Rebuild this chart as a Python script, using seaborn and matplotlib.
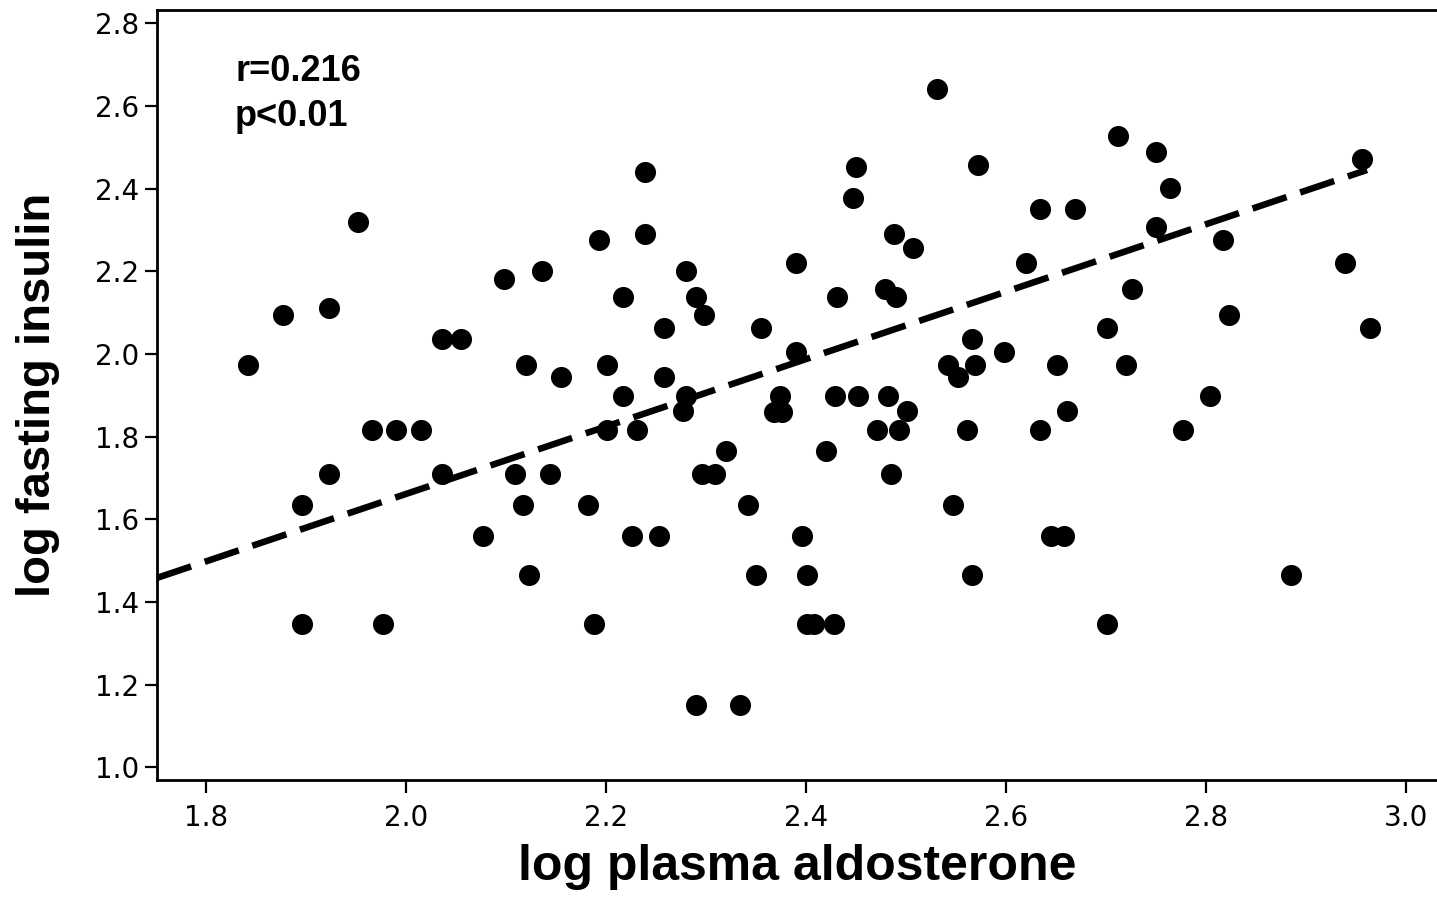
import matplotlib

matplotlib.use("Agg")
import matplotlib.pyplot as plt
import numpy as np
import pandas as pd
import seaborn as sns

# Values
log_aldosterone = [
    1.842, 1.877, 1.923, 1.952, 2.036, 2.055, 2.098, 2.136, 2.120, 2.155,
    2.193, 2.201, 2.217, 2.217, 2.531, 2.239, 2.450, 2.447, 2.572, 2.239,
    2.488, 2.507, 2.390, 2.280, 2.290, 2.298, 2.431, 2.479, 2.490, 2.620,
    2.258, 2.355, 2.390, 2.258, 2.280, 2.277, 2.374, 2.368, 2.376, 2.429,
    2.452, 2.482, 2.501, 2.566, 2.598, 2.542, 2.569, 2.552, 2.712, 2.750,
    2.956, 2.764, 2.634, 2.669, 2.750, 2.817, 2.939, 2.726, 2.701, 2.823,
    2.964, 2.651, 2.720, 2.804, 2.661, 1.966, 1.990, 2.015, 2.201, 1.923,
    2.036, 2.109, 2.144, 1.896, 2.117, 2.182, 2.077, 2.123, 1.896, 1.977,
    2.188, 2.231, 2.471, 2.493, 2.561, 2.320, 2.420, 2.296, 2.309, 2.485,
    2.342, 2.547, 2.226, 2.253, 2.396, 2.350, 2.401, 2.566, 2.401, 2.408,
    2.428, 2.290, 2.334, 2.634, 2.777, 2.645, 2.658, 2.885, 2.701,
]
log_insulin = [
    1.974, 2.093, 2.112, 2.319, 2.037, 2.037, 2.181, 2.200, 1.974, 1.943,
    2.276, 1.974, 2.137, 1.898, 2.640, 2.439, 2.452, 2.377, 2.458, 2.289,
    2.289, 2.257, 2.219, 2.200, 2.137, 2.093, 2.137, 2.156, 2.137, 2.219,
    2.062, 2.062, 2.005, 1.943, 1.898, 1.863, 1.898, 1.860, 1.860, 1.898,
    1.898, 1.898, 1.863, 2.037, 2.005, 1.974, 1.974, 1.943, 2.527, 2.489,
    2.472, 2.401, 2.351, 2.351, 2.308, 2.276, 2.219, 2.156, 2.062, 2.093,
    2.062, 1.974, 1.974, 1.898, 1.863, 1.817, 1.817, 1.817, 1.817, 1.710,
    1.710, 1.710, 1.710, 1.634, 1.634, 1.634, 1.559, 1.465, 1.346, 1.346,
    1.346, 1.817, 1.817, 1.817, 1.817, 1.766, 1.766, 1.710, 1.710, 1.710,
    1.634, 1.634, 1.559, 1.559, 1.559, 1.465, 1.465, 1.465, 1.346, 1.346,
    1.346, 1.151, 1.151, 1.817, 1.817, 1.559, 1.559, 1.465, 1.346,
]

# Fit line as drawn in the reference
fit_x = [1.751, 2.961]
fit_y = [1.458, 2.445]

x_ticks = [1.8, 2.0, 2.2, 2.4, 2.6, 2.8, 3.0]
y_ticks = [1.0, 1.2, 1.4, 1.6, 1.8, 2.0, 2.2, 2.4, 2.6, 2.8]

df = pd.DataFrame({"aldo": log_aldosterone, "insulin": log_insulin})
fit_df = pd.DataFrame({"aldo": fit_x, "insulin": fit_y})

sns.set_style("ticks")
plt.rcParams["font.family"] = ["DejaVu Sans"]
plt.rcParams["text.color"] = "black"
plt.rcParams["axes.labelcolor"] = "black"

fig = plt.figure(figsize=(14.37, 8.98), dpi=100)
ax = fig.add_axes([0.1093, 0.1314, 0.8907, 0.857])

sns.scatterplot(data=df, x="aldo", y="insulin", color="black", s=230,
                linewidth=0, ax=ax, zorder=3)
sns.lineplot(data=fit_df, x="aldo", y="insulin", color="black", lw=4.7,
             ax=ax, zorder=2)
ax.lines[-1].set_dashes((5.5, 2.2))

ax.set_xlim(1.751, 3.031)
ax.set_ylim(0.969, 2.831)
ax.set_xticks(x_ticks)
ax.set_yticks(y_ticks)
ax.set_xticklabels([f"{t:.1f}" for t in x_ticks])
ax.set_yticklabels([f"{t:.1f}" for t in y_ticks])
ax.tick_params(axis="both", direction="out", length=9, width=1.6,
               labelsize=20, color="black", labelcolor="black")
ax.tick_params(axis="x", pad=8)
ax.tick_params(axis="y", pad=4)

for side in ["left", "bottom", "top"]:
    ax.spines[side].set_linewidth(2)
    ax.spines[side].set_color("black")
ax.spines["right"].set_visible(False)

ax.set_xlabel("log plasma aldosterone", fontsize=36, fontweight="bold",
              family="Liberation Sans", labelpad=9, color="black")
ax.set_ylabel("log fasting insulin", fontsize=34, fontweight="bold",
              family="Liberation Sans", labelpad=25, color="black")

ax.text(1.829, 2.66, "r=0.216", fontsize=26, fontweight="bold",
        family="Liberation Sans", va="baseline", color="black")
ax.text(1.829, 2.551, "p<0.01", fontsize=26, fontweight="bold",
        family="Liberation Sans", va="baseline", color="black")

fig.savefig("out.png", dpi=100, facecolor="white")
